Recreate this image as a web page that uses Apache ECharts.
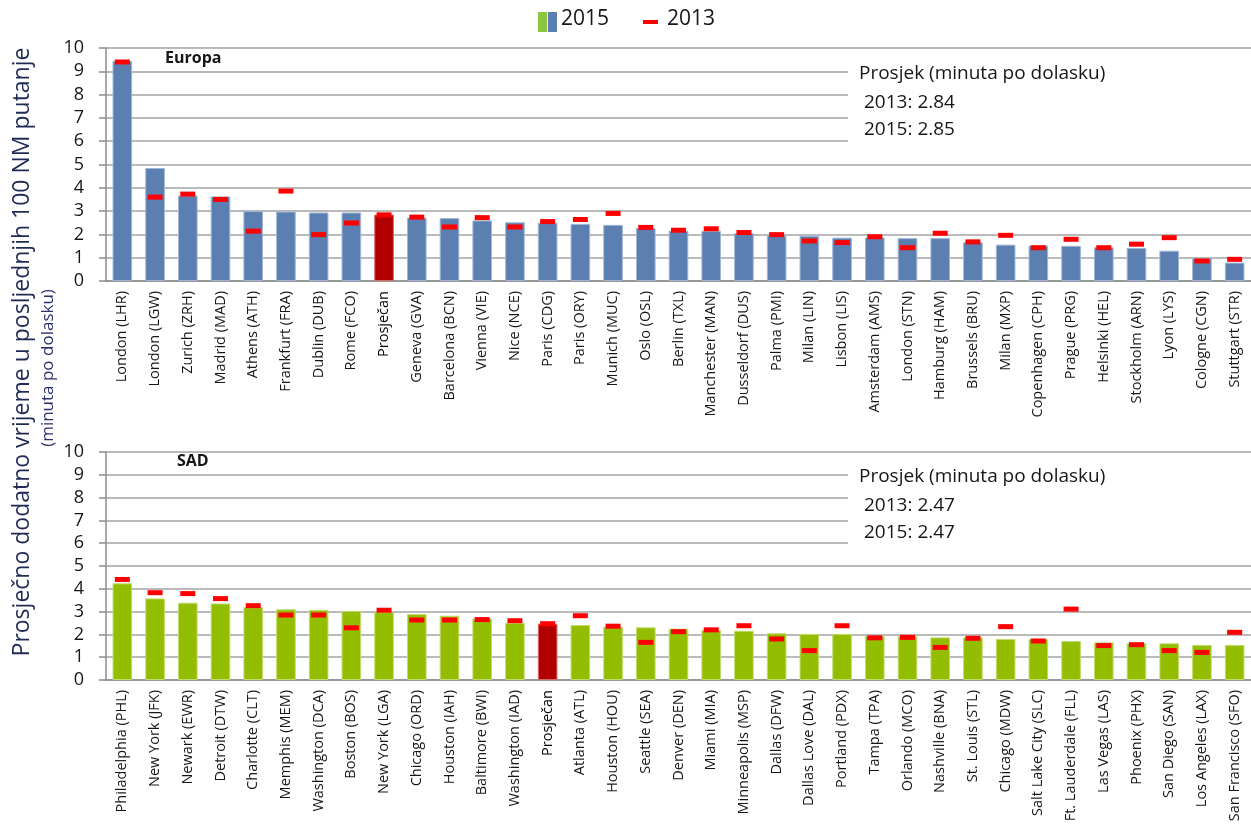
<!DOCTYPE html>
<html>
<head>
<meta charset="utf-8">
<title>Prosječno dodatno vrijeme u posljednjih 100 NM putanje</title>
<script src="https://cdn.jsdelivr.net/npm/echarts@6/dist/echarts.min.js"></script>
<style>
  html, body { margin: 0; padding: 0; background: #ffffff; }
  #chart { width: 1251px; height: 839px; }
</style>
</head>
<body>
<div id="chart"></div>
<script>
// Europe: airports sorted by 2015 additional time, with the regional average ("Prosječan")
const euCities = ['London (LHR)', 'London (LGW)', 'Zurich (ZRH)', 'Madrid (MAD)', 'Athens (ATH)',
  'Frankfurt (FRA)', 'Dublin (DUB)', 'Rome (FCO)', 'Prosječan', 'Geneva (GVA)', 'Barcelona (BCN)',
  'Vienna (VIE)', 'Nice (NCE)', 'Paris (CDG)', 'Paris (ORY)', 'Munich (MUC)', 'Oslo (OSL)',
  'Berlin (TXL)', 'Manchester (MAN)', 'Dusseldorf (DUS)', 'Palma (PMI)', 'Milan (LIN)',
  'Lisbon (LIS)', 'Amsterdam (AMS)', 'London (STN)', 'Hamburg (HAM)', 'Brussels (BRU)',
  'Milan (MXP)', 'Copenhagen (CPH)', 'Prague (PRG)', 'Helsinki (HEL)', 'Stockholm (ARN)',
  'Lyon (LYS)', 'Cologne (CGN)', 'Stuttgart (STR)'];
const eu2015 = [9.45, 4.85, 3.67, 3.63, 3.00, 2.98, 2.94, 2.94, 2.85, 2.72, 2.70, 2.60, 2.52,
  2.50, 2.45, 2.41, 2.27, 2.16, 2.15, 2.05, 1.95, 1.94, 1.86, 1.87, 1.84, 1.84, 1.66, 1.56,
  1.52, 1.51, 1.45, 1.42, 1.30, 0.98, 0.79];
const eu2013 = [9.40, 3.60, 3.73, 3.50, 2.14, 3.86, 1.99, 2.49, 2.84, 2.74, 2.32, 2.72, 2.32,
  2.55, 2.64, 2.90, 2.30, 2.18, 2.24, 2.08, 1.99, 1.72, 1.65, 1.90, 1.43, 2.05, 1.68, 1.96,
  1.43, 1.79, 1.43, 1.58, 1.86, 0.86, 0.93];

// USA: airports sorted by 2015 additional time, with the national average ("Prosječan")
const usCities = ['Philadelphia (PHL)', 'New York (JFK)', 'Newark (EWR)', 'Detroit (DTW)',
  'Charlotte (CLT)', 'Memphis (MEM)', 'Washington (DCA)', 'Boston (BOS)', 'New York (LGA)',
  'Chicago (ORD)', 'Houston (IAH)', 'Baltimore (BWI)', 'Washington (IAD)', 'Prosječan',
  'Atlanta (ATL)', 'Houston (HOU)', 'Seattle (SEA)', 'Denver (DEN)', 'Miami (MIA)',
  'Minneapolis (MSP)', 'Dallas (DFW)', 'Dallas Love (DAL)', 'Portland (PDX)', 'Tampa (TPA)',
  'Orlando (MCO)', 'Nashville (BNA)', 'St. Louis (STL)', 'Chicago (MDW)', 'Salt Lake City (SLC)',
  'Ft. Lauderdale (FLL)', 'Las Vegas (LAS)', 'Phoenix (PHX)', 'San Diego (SAN)',
  'Los Angeles (LAX)', 'San Francisco (SFO)'];
const us2015 = [4.24, 3.58, 3.39, 3.36, 3.19, 3.10, 3.07, 3.03, 2.98, 2.89, 2.82, 2.70, 2.51,
  2.47, 2.41, 2.34, 2.31, 2.25, 2.19, 2.16, 2.05, 2.02, 2.02, 1.94, 1.94, 1.87, 1.87, 1.80,
  1.80, 1.71, 1.65, 1.62, 1.61, 1.54, 1.54];
const us2013 = [4.41, 3.83, 3.79, 3.57, 3.26, 2.85, 2.85, 2.29, 3.06, 2.63, 2.63, 2.65, 2.60,
  2.47, 2.82, 2.36, 1.65, 2.12, 2.20, 2.38, 1.80, 1.29, 2.38, 1.85, 1.87, 1.43, 1.83, 2.34,
  1.71, 3.11, 1.51, 1.55, 1.29, 1.21, 2.09];

const yTicks = [0, 1, 2, 3, 4, 5, 6, 7, 8, 9, 10];
const AVG = 'Prosječan';

const C = {
  blue: '#5b7fb1', blueEdge: '#9fb6d6',
  green: '#93bd00', greenEdge: '#c2dc6e',
  avg: '#b20000', avgEdge: '#d66a6a',
  red: '#ff0000', grid: '#a3a3a3', axis: '#8c8c8c', text: '#161616', navy: '#1f2a55'
};
const FONT = '"Open Sans", "DejaVu Sans", sans-serif';

function barData(cities, values, color, edge) {
  return values.map((v, i) => cities[i] === AVG
    ? { value: v, itemStyle: { color: C.avg, borderColor: C.avgEdge } }
    : { value: v, itemStyle: { color: color, borderColor: edge } });
}

function xAxisFor(cities, gridIndex) {
  return {
    type: 'category', gridIndex: gridIndex, data: cities,
    axisLine: { lineStyle: { color: C.axis, width: 1.5 } },
    axisTick: { length: 6, lineStyle: { color: C.axis, width: 1.5 } },
    axisLabel: {
      interval: 0, rotate: 90, margin: 10, fontFamily: FONT, fontSize: 14.5, color: C.text,
      formatter: v => v === AVG ? '{avg|' + v + '}' : v,
      rich: { avg: { fontFamily: FONT, fontSize: 14.5, color: '#000000' } }
    }
  };
}

function yAxisFor(gridIndex) {
  return {
    type: 'value', gridIndex: gridIndex, min: yTicks[0], max: yTicks[yTicks.length - 1], interval: 1,
    axisLine: { show: true, lineStyle: { color: C.axis, width: 1.5 } },
    axisTick: { show: true, length: 7, lineStyle: { color: C.axis, width: 1.5 } },
    splitLine: { lineStyle: { color: C.grid, width: 1.5 } },
    axisLabel: { margin: 22, fontFamily: FONT, fontSize: 18, color: C.text }
  };
}

function markerSeries(values, axisIndex) {
  return {
    type: 'scatter', xAxisIndex: axisIndex, yAxisIndex: axisIndex, data: values,
    symbol: 'rect', symbolSize: [15, 5], z: 5,
    itemStyle: { color: C.red, opacity: 1 }, emphasis: { disabled: true }
  };
}

const euAvgIdx = euCities.indexOf(AVG);
const usAvgIdx = usCities.indexOf(AVG);

// Average note panel (white box over the upper grid lines)
function notePanel(top, idx, v13, v15) {
  return [
    { type: 'rect', left: 848, top: top, shape: { width: 420, height: 92 },
      style: { fill: '#ffffff' }, z: 20, silent: true },
    { type: 'text', left: 859, top: top + 2, z: 21,
      style: { text: 'Prosjek (minuta po dolasku)', font: '19px ' + FONT, fill: C.text } },
    { type: 'text', left: 864, top: top + 31, z: 21,
      style: { text: '2013: ' + v13[idx].toFixed(2), font: '19px ' + FONT, fill: C.text } },
    { type: 'text', left: 864, top: top + 58, z: 21,
      style: { text: '2015: ' + v15[idx].toFixed(2), font: '19px ' + FONT, fill: C.text } }
  ];
}

const chart = echarts.init(document.getElementById('chart'), null, { renderer: 'canvas' });

chart.setOption({
  animation: false,
  backgroundColor: '#ffffff',
  grid: [
    { left: 106, top: 48, width: 1155, height: 233 },
    { left: 106, top: 452, width: 1155, height: 228 }
  ],
  xAxis: [xAxisFor(euCities, 0), xAxisFor(usCities, 1)],
  yAxis: [yAxisFor(0), yAxisFor(1)],
  series: [
    { name: '2015', type: 'bar', xAxisIndex: 0, yAxisIndex: 0, barWidth: '60%',
      data: barData(euCities, eu2015, C.blue, C.blueEdge),
      itemStyle: { borderWidth: 1 }, emphasis: { disabled: true } },
    markerSeries(eu2013, 0),
    { name: '2015', type: 'bar', xAxisIndex: 1, yAxisIndex: 1, barWidth: '60%',
      data: barData(usCities, us2015, C.green, C.greenEdge),
      itemStyle: { borderWidth: 1 }, emphasis: { disabled: true } },
    markerSeries(us2013, 1)
  ],
  graphic: [
    // legend
    { type: 'rect', left: 538, top: 12, shape: { width: 9, height: 20 }, style: { fill: '#8cc63f' } },
    { type: 'rect', left: 548, top: 12, shape: { width: 9, height: 20 }, style: { fill: C.blue } },
    { type: 'text', left: 561, top: 9, style: { text: '2015', font: '21px ' + FONT, fill: C.text } },
    { type: 'rect', left: 643, top: 20, shape: { width: 15, height: 4 }, style: { fill: C.red } },
    { type: 'text', left: 667, top: 9, style: { text: '2013', font: '21px ' + FONT, fill: C.text } },
    // region labels
    { type: 'text', left: 165, top: 50, z: 21,
      style: { text: 'Europa', font: 'bold 16px ' + FONT, fill: C.text } },
    { type: 'text', left: 177, top: 453, z: 21,
      style: { text: 'SAD', font: 'bold 16px ' + FONT, fill: C.text } },
    // y-axis titles, centred on (x, y) and turned to read upwards
    { type: 'text', x: 22, y: 352, rotation: Math.PI / 2, z: 21,
      style: { text: 'Prosječno dodatno vrijeme u posljednjih 100 NM putanje', font: '23px ' + FONT,
        fill: C.navy, align: 'center', verticalAlign: 'middle' } },
    { type: 'text', x: 48, y: 368, rotation: Math.PI / 2, z: 21,
      style: { text: '(minuta po dolasku)', font: '17px ' + FONT,
        fill: '#2b2f6b', align: 'center', verticalAlign: 'middle' } }
  ].concat(notePanel(62, euAvgIdx, eu2013, eu2015), notePanel(465, usAvgIdx, us2013, us2015))
});
</script>
</body>
</html>
